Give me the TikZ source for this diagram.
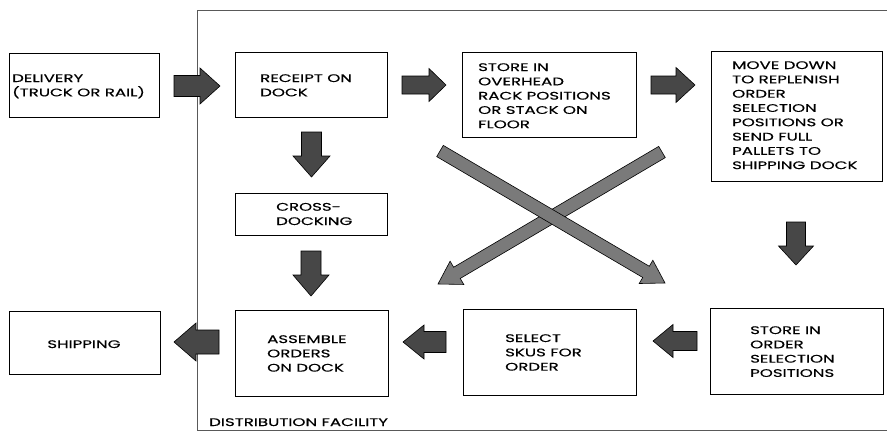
\documentclass[tikz,border=0pt]{standalone}
\usepackage{fontspec}
\setmainfont{Poppins}[FakeStretch=1.51, FakeBold=0.4]
\usetikzlibrary{calc}
\tikzset{
  box/.style={draw=black, line width=0.8pt, inner sep=0pt, anchor=north west},
  lbl/.style={font=\fontsize{11}{14.3}\selectfont, align=left, inner sep=0pt, anchor=base west},
  barrow/.style={fill=black!72, draw=black, line width=0.6pt, line join=miter},
  xarrow/.style={fill=black!52, draw=black, line width=0.6pt, line join=miter},
  frame/.style={draw=black!65, line width=0.6pt}
}
% #1 name prefix (coordinates #1s and #1e must exist), #2 shaft half width, #3 head half width, #4 head length, #5 style
\newcommand\BlkArrow[5]{%
  \coordinate (#1b) at ($(#1e)!#4!(#1s)$);
  \filldraw[#5] ($(#1s)!#2!90:(#1e)$) -- ($(#1b)!#2!90:(#1e)$) -- ($(#1b)!#3!90:(#1e)$)
    -- (#1e) -- ($(#1b)!#3!-90:(#1e)$) -- ($(#1b)!#2!-90:(#1e)$) -- ($(#1s)!#2!-90:(#1e)$) -- cycle;
}
\begin{document}
\begin{tikzpicture}[x=1pt, y=-1pt]
\useasboundingbox (0,0) rectangle (887,432);

% distribution facility frame
\draw[frame] (887,10) -- (197,10) -- (197,430) -- (887,430);
\node[lbl] (facility) at (209,426) {DISTRIBUTION FACILITY};

% boxes
\node[box, minimum width=150pt, minimum height=64pt] (delivery) at (9,53) {};
\node[box, minimum width=152pt, minimum height=65pt] (receipt) at (235,52) {};
\node[box, minimum width=174pt, minimum height=85pt] (overhead) at (462,52) {};
\node[box, minimum width=171pt, minimum height=130pt] (movedown) at (711,51) {};
\node[box, minimum width=152pt, minimum height=42pt] (cross) at (235,193) {};
\node[box, minimum width=151pt, minimum height=63pt] (shipping) at (9,311) {};
\node[box, minimum width=153pt, minimum height=86pt] (assemble) at (235,310) {};
\node[box, minimum width=173pt, minimum height=86pt] (select) at (463,309) {};
\node[box, minimum width=173pt, minimum height=86pt] (storeorder) at (710,308) {};

% texts (anchor = baseline of the last line)
\node[lbl] (tdelivery) at (12,96.3) {DELIVERY\\(TRUCK OR RAIL)};
\node[lbl] (treceipt) at (260,96.3) {RECEIPT ON\\DOCK};
\node[lbl] (toverhead) at (478,128.2) {STORE IN\\OVERHEAD\\RACK POSITIONS\\OR STACK ON\\FLOOR};
\node[lbl] (tmovedown) at (732,169.1) {MOVE DOWN\\TO REPLENISH\\ORDER\\SELECTION\\POSITIONS OR\\SEND FULL\\PALLETS TO\\SHIPPING DOCK};
\node[lbl] (tcross) at (276,225) {CROSS-\\DOCKING};
\node[lbl, anchor=base] (tshipping) at (84,348) {SHIPPING};
\node[lbl] (tassemble) at (267,371.6) {ASSEMBLE\\ORDERS\\ON DOCK};
\node[lbl] (tselect) at (505,370.6) {SELECT\\SKUS FOR\\ORDER};
\node[lbl] (tstoreorder) at (750,376.9) {STORE IN\\ORDER\\SELECTION\\POSITIONS};

% arrow end points
\coordinate (a1s) at (174,86);   \coordinate (a1e) at (220,86);
\coordinate (a2s) at (402,85);   \coordinate (a2e) at (446,85);
\coordinate (a3s) at (651,85);   \coordinate (a3e) at (695,85);
\coordinate (d1s) at (311.5,132); \coordinate (d1e) at (311.5,177);
\coordinate (d2s) at (311,251);  \coordinate (d2e) at (311,296);
\coordinate (d3s) at (796,222);  \coordinate (d3e) at (796,265);
\coordinate (l1s) at (219,342);  \coordinate (l1e) at (174,342);
\coordinate (l2s) at (446,342);  \coordinate (l2e) at (403,342);
\coordinate (l3s) at (697,341);  \coordinate (l3e) at (653,341);
\coordinate (x1s) at (440,151);  \coordinate (x1e) at (665,283);
\coordinate (x2s) at (662,152);  \coordinate (x2e) at (438,284);

\BlkArrow{a1}{10.5pt}{18pt}{20pt}{barrow}
\BlkArrow{a2}{9pt}{16.5pt}{17pt}{barrow}
\BlkArrow{a3}{9pt}{17.5pt}{19pt}{barrow}
\BlkArrow{d1}{10pt}{18.5pt}{21pt}{barrow}
\BlkArrow{d2}{10pt}{18pt}{21pt}{barrow}
\BlkArrow{d3}{9.5pt}{17.5pt}{19pt}{barrow}
\BlkArrow{l1}{12pt}{19pt}{22pt}{barrow}
\BlkArrow{l2}{10.5pt}{17pt}{21pt}{barrow}
\BlkArrow{l3}{9.5pt}{16.5pt}{20pt}{barrow}
\BlkArrow{x2}{6.5pt}{13.5pt}{22pt}{xarrow}
\BlkArrow{x1}{6.5pt}{13.5pt}{22pt}{xarrow}
\end{tikzpicture}
\end{document}
